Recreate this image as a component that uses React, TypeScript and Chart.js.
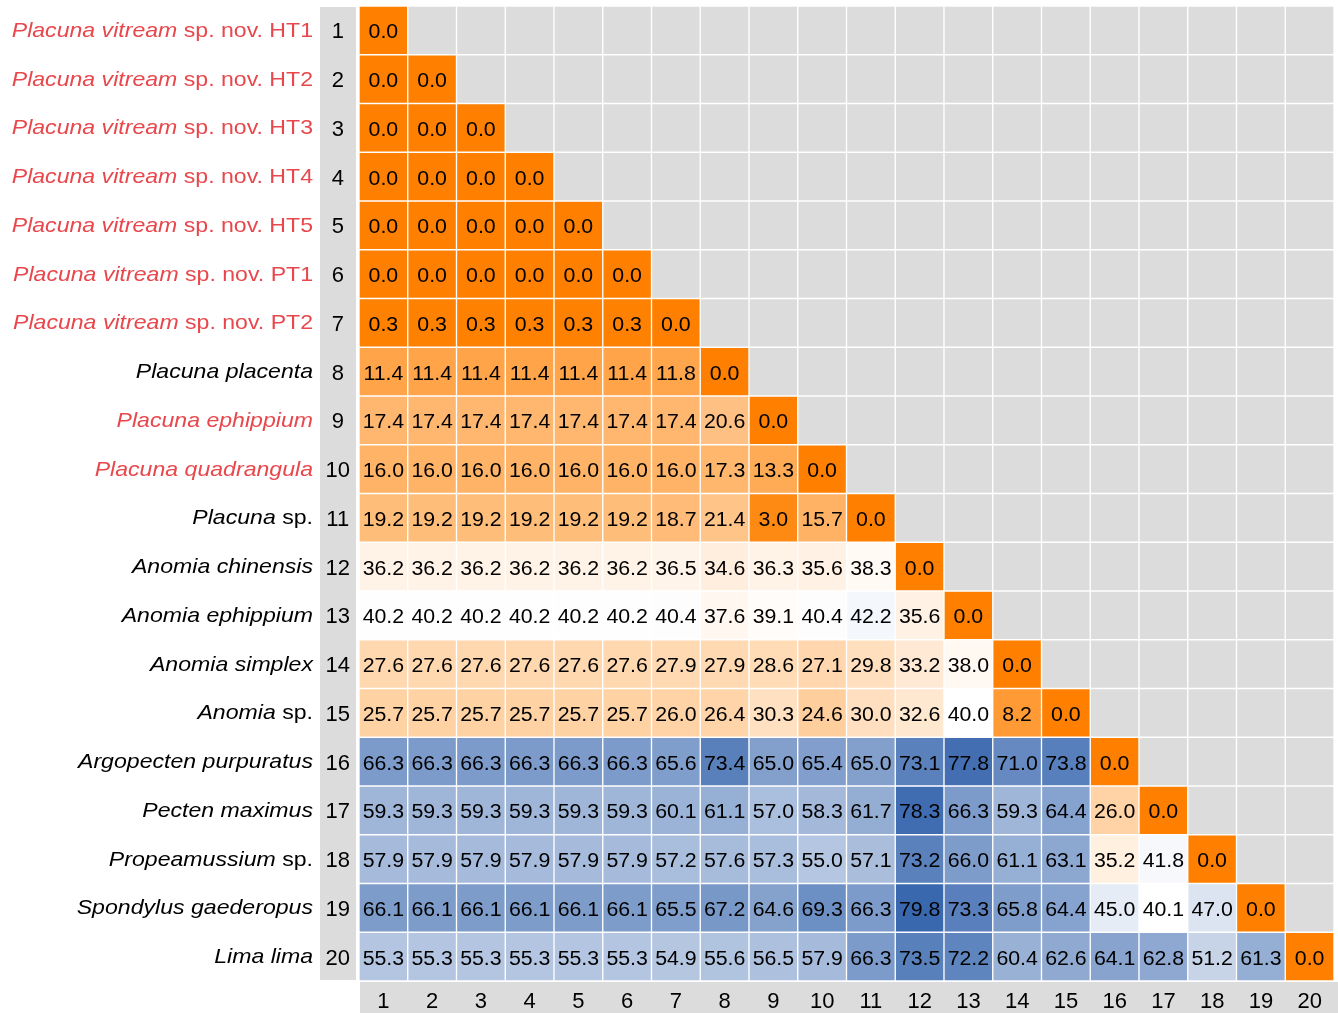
import React, { useEffect, useRef } from 'react';
import { Chart, registerables } from 'chart.js';

Chart.register(...registerables);

// ---------- data ----------
const columnLabels = ['1', '2', '3', '4', '5', '6', '7', '8', '9', '10', '11', '12', '13', '14', '15', '16', '17', '18', '19', '20'];
const rowNumbers = [1, 2, 3, 4, 5, 6, 7, 8, 9, 10, 11, 12, 13, 14, 15, 16, 17, 18, 19, 20];

const r1 = [0.0];
const r2 = [0.0, 0.0];
const r3 = [0.0, 0.0, 0.0];
const r4 = [0.0, 0.0, 0.0, 0.0];
const r5 = [0.0, 0.0, 0.0, 0.0, 0.0];
const r6 = [0.0, 0.0, 0.0, 0.0, 0.0, 0.0];
const r7 = [0.3, 0.3, 0.3, 0.3, 0.3, 0.3, 0.0];
const r8 = [11.4, 11.4, 11.4, 11.4, 11.4, 11.4, 11.8, 0.0];
const r9 = [17.4, 17.4, 17.4, 17.4, 17.4, 17.4, 17.4, 20.6, 0.0];
const r10 = [16.0, 16.0, 16.0, 16.0, 16.0, 16.0, 16.0, 17.3, 13.3, 0.0];
const r11 = [19.2, 19.2, 19.2, 19.2, 19.2, 19.2, 18.7, 21.4, 3.0, 15.7, 0.0];
const r12 = [36.2, 36.2, 36.2, 36.2, 36.2, 36.2, 36.5, 34.6, 36.3, 35.6, 38.3, 0.0];
const r13 = [40.2, 40.2, 40.2, 40.2, 40.2, 40.2, 40.4, 37.6, 39.1, 40.4, 42.2, 35.6, 0.0];
const r14 = [27.6, 27.6, 27.6, 27.6, 27.6, 27.6, 27.9, 27.9, 28.6, 27.1, 29.8, 33.2, 38.0, 0.0];
const r15 = [25.7, 25.7, 25.7, 25.7, 25.7, 25.7, 26.0, 26.4, 30.3, 24.6, 30.0, 32.6, 40.0, 8.2, 0.0];
const r16 = [66.3, 66.3, 66.3, 66.3, 66.3, 66.3, 65.6, 73.4, 65.0, 65.4, 65.0, 73.1, 77.8, 71.0, 73.8, 0.0];
const r17 = [59.3, 59.3, 59.3, 59.3, 59.3, 59.3, 60.1, 61.1, 57.0, 58.3, 61.7, 78.3, 66.3, 59.3, 64.4, 26.0, 0.0];
const r18 = [57.9, 57.9, 57.9, 57.9, 57.9, 57.9, 57.2, 57.6, 57.3, 55.0, 57.1, 73.2, 66.0, 61.1, 63.1, 35.2, 41.8, 0.0];
const r19 = [66.1, 66.1, 66.1, 66.1, 66.1, 66.1, 65.5, 67.2, 64.6, 69.3, 66.3, 79.8, 73.3, 65.8, 64.4, 45.0, 40.1, 47.0, 0.0];
const r20 = [55.3, 55.3, 55.3, 55.3, 55.3, 55.3, 54.9, 55.6, 56.5, 57.9, 66.3, 73.5, 72.2, 60.4, 62.6, 64.1, 62.8, 51.2, 61.3, 0.0];
const distanceRows = [r1, r2, r3, r4, r5, r6, r7, r8, r9, r10, r11, r12, r13, r14, r15, r16, r17, r18, r19, r20];

const speciesItalic = [
  'Placuna vitream', 'Placuna vitream', 'Placuna vitream', 'Placuna vitream', 'Placuna vitream',
  'Placuna vitream', 'Placuna vitream', 'Placuna placenta', 'Placuna ephippium', 'Placuna quadrangula',
  'Placuna', 'Anomia chinensis', 'Anomia ephippium', 'Anomia simplex', 'Anomia',
  'Argopecten purpuratus', 'Pecten maximus', 'Propeamussium', 'Spondylus gaederopus', 'Lima lima',
];
const speciesRoman = [
  ' sp. nov. HT1', ' sp. nov. HT2', ' sp. nov. HT3', ' sp. nov. HT4', ' sp. nov. HT5',
  ' sp. nov. PT1', ' sp. nov. PT2', '', '', '',
  ' sp.', '', '', '', ' sp.',
  '', '', ' sp.', '', '',
];
const speciesHighlighted = [
  true, true, true, true, true, true, true, false, true, true,
  false, false, false, false, false, false, false, false, false, false,
];

const colorStopValues = [0, 40, 80];
const colorStopColors = ['#ff8000', '#ffffff', '#3867ae'];
const emptyCellColor = '#dcdcdd';
const stripColor = '#dcdcdd';
const highlightColor = '#e8474c';

// ---------- helpers ----------
function hexToRgb(h: string): number[] {
  const s = h.replace('#', '');
  return [parseInt(s.slice(0, 2), 16), parseInt(s.slice(2, 4), 16), parseInt(s.slice(4, 6), 16)];
}

function colorFor(v: number): string {
  let k = 0;
  while (k < colorStopValues.length - 2 && v > colorStopValues[k + 1]) k++;
  const v0 = colorStopValues[k];
  const v1 = colorStopValues[k + 1];
  let t = (v - v0) / (v1 - v0);
  t = Math.max(0, Math.min(1, t));
  const c0 = hexToRgb(colorStopColors[k]);
  const c1 = hexToRgb(colorStopColors[k + 1]);
  const c = c0.map((a, i) => Math.round(a + (c1[i] - a) * t));
  return `rgb(${c[0]},${c[1]},${c[2]})`;
}

const FONT = '"Liberation Sans", Arial, Helvetica, sans-serif';

const backgroundPlugin = {
  id: 'bgStrips',
  beforeDraw(chart: any) {
    const { ctx, chartArea } = chart;
    ctx.save();
    ctx.fillStyle = '#ffffff';
    ctx.fillRect(0, 0, chart.width, chart.height);
    ctx.fillStyle = stripColor;
    // row number strip
    ctx.fillRect(320, chartArea.top + 1, 36, chartArea.bottom - chartArea.top - 2);
    // column number strip
    ctx.fillRect(chartArea.left + 1, chartArea.bottom + 1, chart.width - chartArea.left - 1, chart.height - chartArea.bottom - 1);
    ctx.restore();
  },
};

const cellTextPlugin = {
  id: 'cellText',
  afterDatasetsDraw(chart: any) {
    const { ctx } = chart;
    ctx.save();
    ctx.fillStyle = '#000000';
    ctx.font = `20.5px ${FONT}`;
    ctx.textAlign = 'center';
    ctx.textBaseline = 'alphabetic';
    distanceRows.forEach((row, i) => {
      const meta = chart.getDatasetMeta(i);
      row.forEach((v, j) => {
        const el = meta.data[j];
        if (!el) return;
        const p = el.getProps(['x', 'y', 'base'], true);
        const cy = (p.y + p.base) / 2;
        ctx.save();
        ctx.translate(p.x, cy + 8);
        ctx.scale(1.04, 1);
        ctx.fillText(v.toFixed(1), 0, 0);
        ctx.restore();
      });
    });
    ctx.restore();
  },
};

const namePlugin = {
  id: 'speciesNames',
  afterDraw(chart: any) {
    const { ctx } = chart;
    const yScale = chart.scales.y;
    const sx = 1.1;
    const rightX = 313;
    ctx.save();
    ctx.textBaseline = 'alphabetic';
    ctx.textAlign = 'left';
    speciesItalic.forEach((it, i) => {
      const ro = speciesRoman[i];
      const cy = yScale.getPixelForValue(rowNumbers[i]);
      const fontI = `italic 21px ${FONT}`;
      const fontR = `21px ${FONT}`;
      ctx.font = fontI;
      const wI = ctx.measureText(it).width;
      ctx.font = fontR;
      const wR = ro ? ctx.measureText(ro).width : 0;
      const total = wI + wR;
      ctx.save();
      ctx.translate(rightX, cy + 6.5);
      ctx.scale(sx, 1);
      ctx.fillStyle = speciesHighlighted[i] ? highlightColor : '#000000';
      ctx.font = fontI;
      ctx.fillText(it, -total, 0);
      if (ro) {
        ctx.font = fontR;
        ctx.fillText(ro, -total + wI, 0);
      }
      ctx.restore();
    });
    ctx.restore();
  },
};

export default function App() {
  const canvasRef = useRef<HTMLCanvasElement | null>(null);

  useEffect(() => {
    const canvas = canvasRef.current;
    if (!canvas) return;

    const datasets = distanceRows.map((row, i) => ({
      label: String(rowNumbers[i]),
      data: columnLabels.map(() => [rowNumbers[i] - 0.5, rowNumbers[i] + 0.5]),
      backgroundColor: columnLabels.map((_, j) => (j < row.length ? colorFor(row[j]) : emptyCellColor)),
      borderColor: '#ffffff',
      borderWidth: 1,
      borderSkipped: false,
      grouped: false,
      barPercentage: 1,
      categoryPercentage: 1,
    }));

    const chart = new Chart(canvas, {
      type: 'bar',
      data: { labels: columnLabels, datasets: datasets as any },
      options: {
        animation: false,
        responsive: false,
        maintainAspectRatio: false,
        devicePixelRatio: 1,
        layout: { padding: { top: 6, right: 4, left: 0, bottom: 0 } },
        plugins: {
          legend: { display: false },
          tooltip: { enabled: false },
        },
        scales: {
          x: {
            type: 'category',
            position: 'bottom',
            offset: true,
            grid: { display: false },
            border: { display: false },
            ticks: {
              color: '#000000',
              font: { family: FONT, size: 22 },
              padding: 0,
              maxRotation: 0,
              autoSkip: false,
            },
            afterFit: (scale: any) => {
              scale.height = 32;
              scale.paddingLeft = 0;
              scale.paddingRight = 0;
            },
          },
          y: {
            type: 'linear',
            position: 'left',
            reverse: true,
            min: 0.5,
            max: 20.5,
            grid: { display: false },
            border: { display: false },
            afterBuildTicks: (scale: any) => {
              scale.ticks = rowNumbers.map((v) => ({ value: v }));
            },
            ticks: {
              color: '#000000',
              font: { family: FONT, size: 22 },
              crossAlign: 'center',
              padding: 1,
              labelOffset: 2,
              autoSkip: false,
              callback: (v: any) => String(v),
            },
            afterFit: (scale: any) => {
              scale.width = 359;
              scale.paddingTop = 0;
              scale.paddingBottom = 0;
            },
          },
        },
      } as any,
      plugins: [backgroundPlugin, cellTextPlugin, namePlugin],
    });

    return () => {
      chart.destroy();
    };
  }, []);

  return (
    <div style={{ position: 'absolute', left: 0, top: 0, width: 1338, height: 1013, background: '#ffffff' }}>
      <canvas ref={canvasRef} width={1338} height={1013} style={{ display: 'block', width: 1338, height: 1013 }} />
    </div>
  );
}
